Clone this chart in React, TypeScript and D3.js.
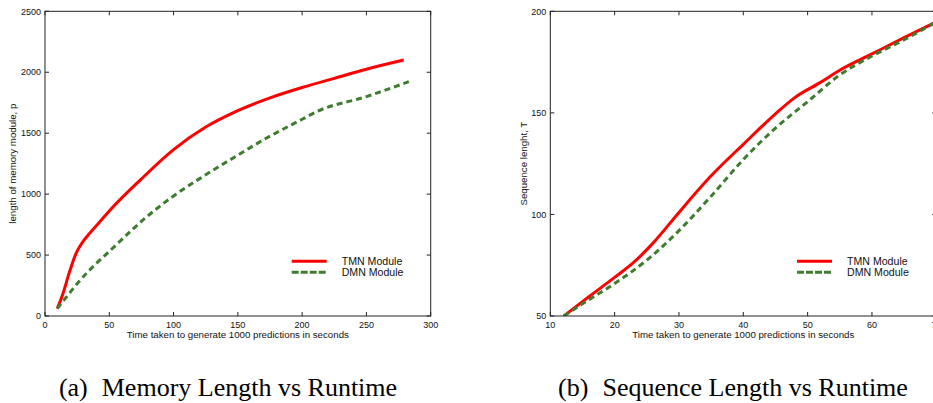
import React from "react";
import * as d3 from "d3";

// ---------- Data ----------
const memTmnX = [9.5, 14, 19, 24, 28.5, 34, 42, 50, 75, 100, 125, 150, 175, 200, 225, 250, 279];
const memTmnY = [60, 185, 360, 510, 595, 670, 765, 862, 1125, 1365, 1550, 1685, 1790, 1875, 1950, 2025, 2100];
const memDmnX = [9.5, 20, 27, 40, 50, 66, 76.5, 100, 120, 150, 172, 200, 212, 250, 283];
const memDmnY = [60, 200, 290, 432, 530, 690, 790, 985, 1125, 1320, 1458, 1614, 1680, 1800, 1923];

const seqTmnX = [12.1, 16, 20, 23, 26, 30, 35, 40, 45, 48, 52, 55, 60, 65, 70];
const seqTmnY = [50, 59.5, 69, 76.5, 86, 101, 119, 134.5, 149.5, 157.5, 165, 171, 179, 187, 194.8];
const seqDmnX = [12.1, 16, 20, 25, 30, 35, 40, 45, 50, 55, 60, 65, 70];
const seqDmnY = [50, 58, 66, 77.5, 92, 109, 127, 142.5, 155.5, 168.7, 178, 186, 194.8];

const memXTicks = [0, 50, 100, 150, 200, 250, 300];
const memYTicks = [0, 500, 1000, 1500, 2000, 2500];
const seqXTicks = [10, 20, 30, 40, 50, 60, 70];
const seqYTicks = [50, 100, 150, 200];

const seriesNames = ["TMN Module", "DMN Module"];
const xLabel = "Time taken to generate 1000 predictions in seconds";

const RED = "#ff0000";
const GREEN = "#3d7d2d";
const SANS = "'Liberation Sans', Arial, Helvetica, sans-serif";
const SERIF = "'Liberation Serif', 'Times New Roman', Times, serif";

type PanelProps = {
  id: string;
  x0: number;
  x1: number;
  xDomain: [number, number];
  yDomain: [number, number];
  xTicks: number[];
  yTicks: number[];
  yLabel: string;
  yLabelX: number;
  tmnX: number[];
  tmnY: number[];
  dmnX: number[];
  dmnY: number[];
};

const TOP = 11.3;
const BOTTOM = 316;
const TICK = 4;

function Panel(p: PanelProps) {
  const x = d3.scaleLinear().domain(p.xDomain).range([p.x0, p.x1]);
  const y = d3.scaleLinear().domain(p.yDomain).range([BOTTOM, TOP]);
  const line = d3
    .line<[number, number]>()
    .x((d) => x(d[0]))
    .y((d) => y(d[1]))
    .curve(d3.curveMonotoneX);
  const tmn = p.tmnX.map((v, i) => [v, p.tmnY[i]] as [number, number]);
  const dmn = p.dmnX.map((v, i) => [v, p.dmnY[i]] as [number, number]);
  const lx = p.x0 + 246.7;
  const cy = (TOP + BOTTOM) / 2;
  return (
    <g>
      <defs>
        <clipPath id={`clip-${p.id}`}>
          <rect x={p.x0} y={TOP} width={p.x1 - p.x0} height={BOTTOM - TOP} />
        </clipPath>
      </defs>
      <g clipPath={`url(#clip-${p.id})`}>
        <path d={line(tmn) || ""} fill="none" stroke={RED} strokeWidth={3} strokeLinejoin="round" />
        <path d={line(dmn) || ""} fill="none" stroke={GREEN} strokeWidth={3} strokeDasharray="6,4" />
      </g>
      {/* frame */}
      <rect x={p.x0} y={TOP} width={p.x1 - p.x0} height={BOTTOM - TOP} fill="none" stroke="#222" strokeWidth={1} />
      {/* x ticks */}
      {p.xTicks.map((t) => (
        <g key={`x${t}`}>
          <line x1={x(t)} x2={x(t)} y1={BOTTOM} y2={BOTTOM - TICK} stroke="#222" />
          <line x1={x(t)} x2={x(t)} y1={TOP} y2={TOP + TICK} stroke="#222" />
          <text x={x(t)} y={327.5} fontSize={9} fontFamily={SANS} textAnchor="middle" fill="#111">
            {t}
          </text>
        </g>
      ))}
      {/* y ticks */}
      {p.yTicks.map((t) => (
        <g key={`y${t}`}>
          <line x1={p.x0} x2={p.x0 + TICK} y1={y(t)} y2={y(t)} stroke="#222" />
          <line x1={p.x1} x2={p.x1 - TICK} y1={y(t)} y2={y(t)} stroke="#222" />
          <text x={p.x0 - 4} y={y(t) + 3.2} fontSize={9} fontFamily={SANS} textAnchor="end" fill="#111">
            {t}
          </text>
        </g>
      ))}
      <text x={(p.x0 + p.x1) / 2} y={337.5} fontSize={9.7} fontFamily={SANS} textAnchor="middle" fill="#111">
        {xLabel}
      </text>
      <text
        transform={`translate(${p.yLabelX},${cy}) rotate(-90)`}
        fontSize={9.7}
        fontFamily={SANS}
        textAnchor="middle"
        fill="#111"
      >
        {p.yLabel}
      </text>
      {/* legend */}
      <line x1={lx} x2={lx + 35} y1={261.3} y2={261.3} stroke={RED} strokeWidth={3} />
      <line x1={lx} x2={lx + 35} y1={272.3} y2={272.3} stroke={GREEN} strokeWidth={3} strokeDasharray="7,2" />
      <text x={lx + 50} y={265} fontSize={10.6} fontFamily={SANS} fill="#111">
        {seriesNames[0]}
      </text>
      <text x={lx + 50} y={275.8} fontSize={10.6} fontFamily={SANS} fill="#111">
        {seriesNames[1]}
      </text>
    </g>
  );
}

export default function App() {
  return (
    <svg
      width={933}
      height={403}
      style={{ position: "absolute", left: 0, top: 0, background: "#fff" }}
    >
      <rect x={0} y={0} width={933} height={403} fill="#fff" />
      <Panel
        id="a"
        x0={45}
        x1={430.7}
        xDomain={[0, 300]}
        yDomain={[0, 2500]}
        xTicks={memXTicks}
        yTicks={memYTicks}
        yLabel="length of memory module, p"
        yLabelX={15.5}
        tmnX={memTmnX}
        tmnY={memTmnY}
        dmnX={memDmnX}
        dmnY={memDmnY}
      />
      <Panel
        id="b"
        x0={550.3}
        x1={936.3}
        xDomain={[10, 70]}
        yDomain={[50, 200]}
        xTicks={seqXTicks}
        yTicks={seqYTicks}
        yLabel="Sequence lenght, T"
        yLabelX={527}
        tmnX={seqTmnX}
        tmnY={seqTmnY}
        dmnX={seqDmnX}
        dmnY={seqDmnY}
      />
      <text x={228} y={396} fontSize={26} fontFamily={SERIF} textAnchor="middle" fill="#000">
        <tspan>(a)</tspan>
        <tspan dx={14}>Memory Length vs Runtime</tspan>
      </text>
      <text x={733} y={396} fontSize={26} fontFamily={SERIF} textAnchor="middle" fill="#000">
        <tspan>(b)</tspan>
        <tspan dx={14}>Sequence Length vs Runtime</tspan>
      </text>
    </svg>
  );
}
